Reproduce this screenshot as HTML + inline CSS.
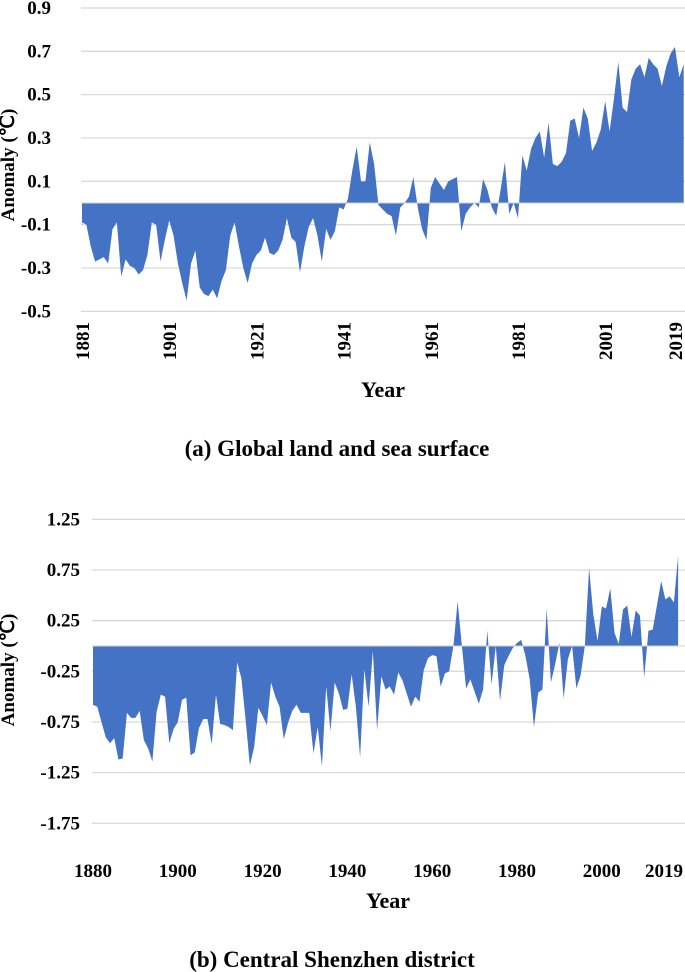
<!DOCTYPE html>
<html><head><meta charset="utf-8"><style>
html,body{margin:0;padding:0;background:#fff}
svg{display:block;font-family:"Liberation Serif",serif;font-weight:bold}
</style></head><body>
<svg id="svg" width="685" height="972" viewBox="0 0 685 972">
<g id="ca"></g>
<g id="cb"></g>
<text x="14" y="165" transform="rotate(-90 14 165)" text-anchor="middle" font-size="19">Anomaly (℃)</text>
<text x="383" y="397" text-anchor="middle" font-size="22">Year</text>
<text x="337" y="456" text-anchor="middle" font-size="23">(a) Global land and sea surface</text>
<text x="14" y="670" transform="rotate(-90 14 670)" text-anchor="middle" font-size="19">Anomaly (℃)</text>
<text x="388" y="908" text-anchor="middle" font-size="22">Year</text>
<text x="332" y="967" text-anchor="middle" font-size="23">(b) Central Shenzhen district</text>
</svg>
<script>
const yearsA0 = 1881;
const valuesA = [
-0.09,-0.10,-0.20,-0.27,-0.26,-0.25,-0.28,-0.12,-0.09,-0.34,
-0.26,-0.29,-0.30,-0.33,-0.31,-0.24,-0.09,-0.10,-0.27,-0.17,
-0.08,-0.15,-0.28,-0.37,-0.45,-0.28,-0.22,-0.39,-0.42,-0.43,
-0.40,-0.44,-0.36,-0.31,-0.15,-0.09,-0.20,-0.30,-0.37,-0.28,
-0.24,-0.22,-0.16,-0.23,-0.24,-0.22,-0.17,-0.07,-0.16,-0.18,
-0.32,-0.20,-0.11,-0.07,-0.15,-0.27,-0.12,-0.17,-0.13,-0.02,
-0.03,0.02,0.15,0.26,0.10,0.10,0.28,0.18,-0.01,-0.03,
-0.05,-0.06,-0.15,-0.02,0.00,0.03,0.12,-0.02,-0.12,-0.17,
0.07,0.12,0.09,0.06,0.10,0.11,0.12,-0.13,-0.05,-0.02,
0.00,-0.02,0.11,0.06,-0.02,-0.06,0.06,0.19,-0.05,0.00,
-0.07,0.22,0.15,0.25,0.30,0.33,0.21,0.37,0.18,0.17,
0.19,0.23,0.38,0.39,0.30,0.44,0.39,0.24,0.28,0.34,
0.47,0.33,0.48,0.65,0.44,0.42,0.57,0.62,0.64,0.58,
0.67,0.64,0.62,0.54,0.63,0.69,0.72,0.58,0.64];
const ticksA = [0.9,0.7,0.5,0.3,0.1,-0.1,-0.3,-0.5];
const xLabelsA = [1881,1901,1921,1941,1961,1981,2001,2019];

const yearsB0 = 1880;
const valuesB = [
-0.58,-0.60,-0.75,-0.90,-0.96,-0.91,-1.12,-1.11,-0.66,-0.71,
-0.71,-0.64,-0.93,-1.01,-1.14,-0.65,-0.48,-0.50,-0.96,-0.82,
-0.75,-0.53,-0.51,-1.08,-1.05,-0.81,-0.72,-0.72,-0.97,-0.48,
-0.77,-0.78,-0.80,-0.83,-0.16,-0.32,-0.73,-1.18,-1.00,-0.61,
-0.69,-0.78,-0.36,-0.50,-0.60,-0.92,-0.76,-0.64,-0.58,-0.66,
-0.66,-0.66,-1.06,-0.80,-1.19,-0.40,-0.84,-0.36,-0.47,-0.63,
-0.62,-0.28,-0.60,-1.10,-0.23,-0.60,-0.05,-0.83,-0.30,-0.43,
-0.40,-0.48,-0.26,-0.34,-0.47,-0.60,-0.50,-0.55,-0.24,-0.12,
-0.09,-0.10,-0.40,-0.27,-0.25,0.00,0.44,0.00,-0.42,-0.33,
-0.45,-0.57,-0.43,0.15,-0.38,0.00,-0.54,-0.19,-0.10,-0.02,
0.03,0.06,-0.10,-0.33,-0.80,-0.46,-0.43,0.37,-0.36,-0.18,
0.03,-0.52,-0.13,0.00,-0.42,-0.29,0.00,0.77,0.31,0.05,
0.39,0.37,0.57,0.13,0.02,0.36,0.40,0.09,0.35,0.30,
-0.31,0.15,0.16,0.40,0.64,0.46,0.49,0.43,0.89];
const ticksB = [1.25,0.75,0.25,-0.25,-0.75,-1.25,-1.75];
const xLabelsB = [1880,1900,1920,1940,1960,1980,2000,2019];

const NS="http://www.w3.org/2000/svg";
function mk(tag,attrs,parent){const e=document.createElementNS(NS,tag);for(const k in attrs)e.setAttribute(k,attrs[k]);parent.appendChild(e);return e;}

function draw(g,vals,y0year,ticks,xlabels,cfg,suffix){
  const xs=yr=>cfg.x0+(yr-y0year)*cfg.pxYr;
  const ys=v=>cfg.zeroY-v*cfg.pxU;
  ticks.forEach(t=>{
    const l=mk('line',{x1:cfg.left,x2:cfg.right,y1:ys(t),y2:ys(t),stroke:'#d9d9d9','stroke-width':1.3},g);
    
    
    const tx=mk('text',{x:cfg.tickX,y:ys(t)+6,'text-anchor':'end','font-size':19},g);
    tx.textContent=cfg.fmt(t);
    
    
  });
  let d='M'+xs(y0year)+','+cfg.zeroY;
  vals.forEach((v,i)=>{d+=' L'+xs(y0year+i).toFixed(2)+','+ys(v).toFixed(2);});
  d+=' L'+xs(y0year+vals.length-1)+','+cfg.zeroY+' Z';
  const p=mk('path',{d:d,fill:'#4472c4',stroke:'none'},g);
  
  
  const z=mk('line',{x1:cfg.left,x2:cfg.right,y1:cfg.zeroY,y2:cfg.zeroY,stroke:'#d0d0d0','stroke-width':1},g);
  
  
  xlabels.forEach(yr=>{
    const x=Math.min(xs(yr),cfg.maxLab);
    let t;
    if(cfg.rot){
      t=mk('text',{x:x+7,y:cfg.labY,'text-anchor':'end','font-size':19,transform:'rotate(-90 '+(x+7)+' '+cfg.labY+')'},g);
    }else{
      t=mk('text',{x:x,y:cfg.labY,'text-anchor':'middle','font-size':19},g);
    }
    t.textContent=yr;
    
    
  });
}
draw(document.getElementById('ca'),valuesA,yearsA0,ticksA,xLabelsA,
 {x0:82,pxYr:4.36,zeroY:203,pxU:216.7,left:81,right:685,tickX:51,labY:322,rot:true,maxLab:675,fmt:t=>t.toFixed(1)},'a');
draw(document.getElementById('cb'),valuesB,yearsB0,ticksB,xLabelsB,
 {x0:93,pxYr:4.24,zeroY:646,pxU:101.3,left:92,right:685,tickX:80,labY:877,rot:false,maxLab:664,fmt:t=>t.toFixed(2)},'b');
</script>
</body></html>
